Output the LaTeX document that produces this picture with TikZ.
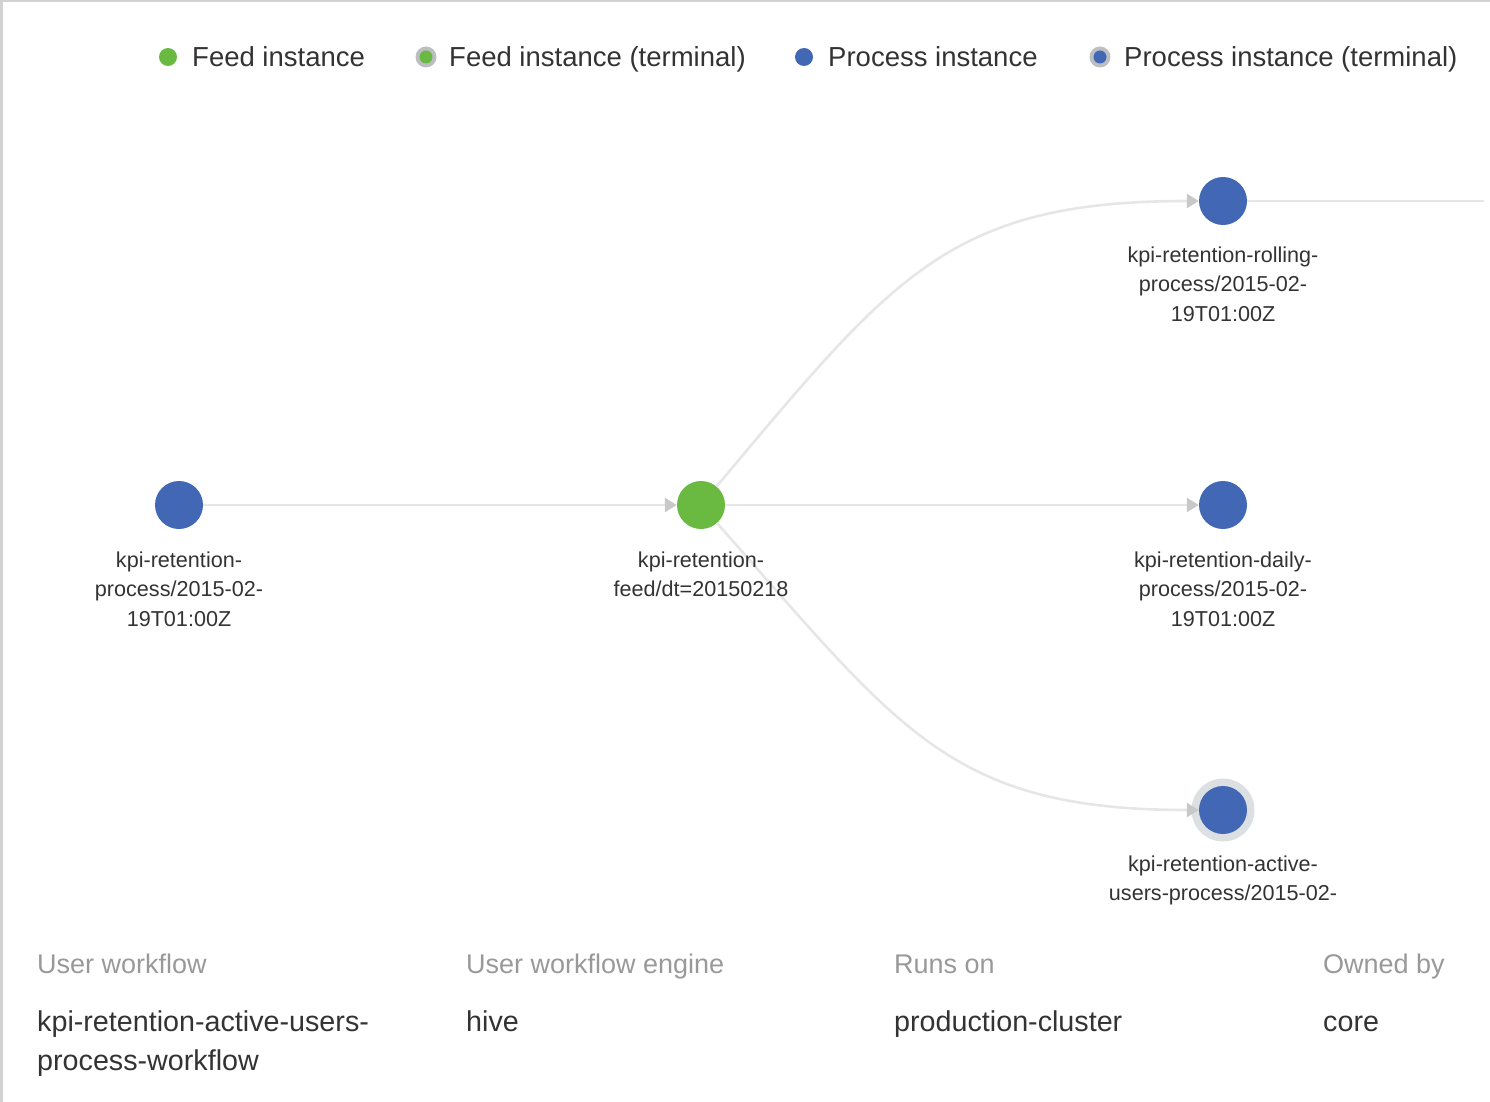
\documentclass[tikz,border=0pt]{standalone}
\usepackage{fontspec}
\setmainfont{Liberation Sans}
\usetikzlibrary{arrows.meta}
\definecolor{feedgreen}{HTML}{6AB940}
\definecolor{procblue}{HTML}{4268B5}
\definecolor{edgegray}{HTML}{E6E6E6}
\definecolor{tipgray}{HTML}{C8C8C8}
\definecolor{halogray}{HTML}{DDE0E3}
\definecolor{txtdark}{HTML}{333333}
\definecolor{txtlight}{HTML}{999999}
\definecolor{framegray}{HTML}{D2D2D2}
\tikzset{
  feednode/.style={circle, fill=feedgreen, minimum size=48pt, inner sep=0pt},
  procnode/.style={circle, fill=procblue, minimum size=48pt, inner sep=0pt},
  halonode/.style={circle, fill=halogray, minimum size=63pt, inner sep=0pt},
  edgeline/.style={draw=edgegray, line width=2.6pt},
  arrowedge/.style={edgeline, -{Triangle[length=12pt,width=14pt,color=tipgray]}},
  nodelabel/.style={anchor=north, inner sep=0pt, align=center, text=txtdark,
    font=\fontsize{21.6}{29.5}\selectfont},
  legendtext/.style={anchor=base west, inner sep=0pt, text=txtdark,
    font=\fontsize{27.5}{33}\selectfont},
  legenddot/.style={circle, minimum size=18pt, inner sep=0pt},
  legendhalo/.style={circle, fill=halogray!85!black, minimum size=21pt, inner sep=0pt},
  legendinner/.style={circle, minimum size=13pt, inner sep=0pt},
  infohead/.style={anchor=base west, inner sep=0pt, text=txtlight,
    font=\fontsize{27}{39}\selectfont},
  infoval/.style={anchor=base west, inner sep=0pt, align=left, text=txtdark,
    font=\fontsize{28.7}{39}\selectfont},
}
\begin{document}
\begin{tikzpicture}[x=1pt,y=-1pt]
\useasboundingbox (0,0) rectangle (1490,1102);
% frame
\draw[framegray, line width=2.5pt] (1.25,1102) -- (1.25,1.25) -- (1490,1.25);

% legend
\node[legenddot, fill=feedgreen] (lg1) at (168,57) {};
\node[legendtext] (lt1) at (192,67) {Feed instance};
\node[legendhalo] (lg2h) at (426,57) {};
\node[legendinner, fill=feedgreen] (lg2) at (426,57) {};
\node[legendtext] (lt2) at (449,67) {Feed instance (terminal)};
\node[legenddot, fill=procblue] (lg3) at (804,57) {};
\node[legendtext] (lt3) at (828,67) {Process instance};
\node[legendhalo] (lg4h) at (1100,57) {};
\node[legendinner, fill=procblue] (lg4) at (1100,57) {};
\node[legendtext] (lt4) at (1124,67) {Process instance (terminal)};

% graph nodes
\node[procnode] (src) at (179,505) {};
\node[feednode] (feed) at (701,505) {};
\node[procnode] (roll) at (1223,201) {};
\node[procnode] (daily) at (1223,505) {};
\node[halonode] (acth) at (1223,810) {};
\node[procnode] (act) at (1223,810) {};
\coordinate (offright) at (1484,201);

% edges
\draw[arrowedge] (src) -- (feed);
\draw[arrowedge] (feed) -- (daily);
\draw[arrowedge] (feed) .. controls (894,275) and (950,201) .. (roll);
\draw[arrowedge] (feed) .. controls (900,730) and (950,810) .. (act);
\draw[edgeline] (roll) -- (offright);

% node labels
\node[nodelabel] (lsrc) at (179,551.5) {kpi-retention-\\process/2015-02-\\19T01:00Z};
\node[nodelabel] (lfeed) at (701,551.5) {kpi-retention-\\feed/dt=20150218};
\node[nodelabel] (lroll) at (1223,246.5) {kpi-retention-rolling-\\process/2015-02-\\19T01:00Z};
\node[nodelabel] (ldaily) at (1223,551.5) {kpi-retention-daily-\\process/2015-02-\\19T01:00Z};
\node[nodelabel] (lact) at (1223,855.5) {kpi-retention-active-\\users-process/2015-02-};

% info panel
\node[infohead] (h1) at (37,973) {User workflow};
\node[infohead] (h2) at (466,973) {User workflow engine};
\node[infohead] (h3) at (894,973) {Runs on};
\node[infohead] (h4) at (1323,973) {Owned by};
\node[infoval] (v1a) at (37,1031) {kpi-retention-active-users-};
\node[infoval] (v1b) at (37,1070) {process-workflow};
\node[infoval] (v2) at (466,1031) {hive};
\node[infoval] (v3) at (894,1031) {production-cluster};
\node[infoval] (v4) at (1323,1031) {core};
\end{tikzpicture}
\end{document}
